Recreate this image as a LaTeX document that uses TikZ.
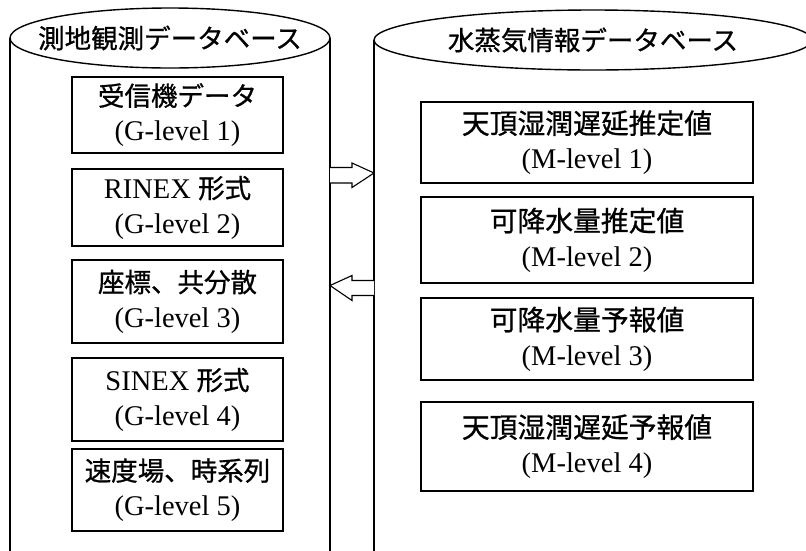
\documentclass[tikz,border=0pt]{standalone}
\usepackage{fontspec}
\usetikzlibrary{calc}
\setmainfont{Liberation Serif}
\newfontfamily\jpfont[FakeBold=0.8]{Noto Sans CJK JP}
\newcommand\J[1]{{\fontsize{26.5}{35}\jpfont #1}}
\newcommand\JR[1]{{\fontsize{27.8}{36}\jpfont #1}}
\begin{document}
\begin{tikzpicture}[x=1pt,y=-1pt,
  cyl/.style={line width=1.4pt},
  lvl/.style={draw,line width=1.1pt,inner sep=0pt,align=center,
    font=\fontsize{28.5}{35}\selectfont},
  ttl/.style={inner sep=0pt,font=\fontsize{26.5}{30}\jpfont},
  blk/.style={draw,line width=1.1pt,fill=white,line join=miter}]
\useasboundingbox (0,0) rectangle (806,550);
\clip (0,0) rectangle (806,550);
% left cylinder
\draw[cyl] (10,38) -- (10,552);
\draw[cyl] (330,38) -- (330,552);
\draw[cyl,fill=white] (170,38) ellipse [x radius=160,y radius=30];
\node[ttl] (ltitle) at (170,38) {測地観測データベース};
% right cylinder
\draw[cyl] (374,40) -- (374,552);
\draw[cyl] (812,40) -- (812,552);
\draw[cyl,fill=white] (593,40) ellipse [x radius=219,y radius=30];
\node[ttl] (rtitle) at (593,40) {水蒸気情報データベース};
% left boxes
\node[lvl,minimum width=211pt,minimum height=76pt] (g1) at (177.5,115) {\J{受信機データ}\\(G-level 1)};
\node[lvl,minimum width=211pt,minimum height=77pt] (g2) at (177.5,207.5) {RINEX \J{形式}\\(G-level 2)};
\node[lvl,minimum width=211pt,minimum height=83pt] (g3) at (177.5,301.5) {\J{座標、共分散}\\(G-level 3)};
\node[lvl,minimum width=211pt,minimum height=83pt] (g4) at (177.5,399.5) {SINEX \J{形式}\\(G-level 4)};
\node[lvl,minimum width=211pt,minimum height=82pt] (g5) at (177.5,490) {\J{速度場、時系列}\\(G-level 5)};
% right boxes
\node[lvl,minimum width=332pt,minimum height=81pt] (m1) at (587,142.5) {\JR{天頂湿潤遅延推定値}\\(M-level 1)};
\node[lvl,minimum width=332pt,minimum height=86pt] (m2) at (587,240) {\JR{可降水量推定値}\\(M-level 2)};
\node[lvl,minimum width=332pt,minimum height=82pt] (m3) at (587,339) {\JR{可降水量予報値}\\(M-level 3)};
\node[lvl,minimum width=332pt,minimum height=89pt] (m4) at (587,446.5) {\JR{天頂湿潤遅延予報値}\\(M-level 4)};
% block arrows between the cylinders
\coordinate (a1s) at (330,173);
\coordinate (a1e) at (374,173);
\draw[blk] ($(a1s)+(0,-5.5)$) -- ++(22,0) -- ++(0,-4.5) -- (a1e) -- ++(-22,14.5) -- ++(0,-4.5) -- ++(-22,0);
\coordinate (a2s) at (374,285.5);
\coordinate (a2e) at (330,285.5);
\draw[blk] ($(a2s)+(0,-5)$) -- ++(-22,0) -- ++(0,-5) -- (a2e) -- ++(22,15) -- ++(0,-5) -- ++(22,0);
\end{tikzpicture}
\end{document}
